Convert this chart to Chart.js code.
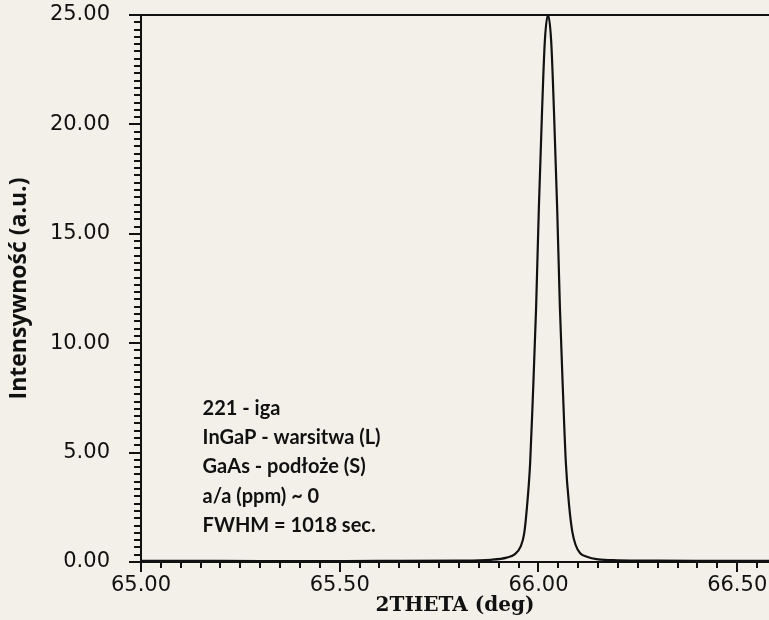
<!DOCTYPE html>
<html>
<head>
<meta charset="utf-8">
<script src="https://cdn.jsdelivr.net/npm/chart.js@4"></script>
<style>
  html, body { margin: 0; padding: 0; background: #f2f0e9; }
  #wrap { width: 769px; height: 620px; }
</style>
</head>
<body>
<div id="wrap"><canvas id="xrdChart" width="769" height="620"></canvas></div>
<script>
// scan data
const twoTheta = [65.00, 65.20, 65.40, 65.60, 65.80, 65.88, 65.92, 65.94, 65.955, 65.964,
    65.971, 65.979, 65.986, 65.994, 66.001, 66.009, 66.016, 66.024, 66.032, 66.039,
    66.047, 66.054, 66.062, 66.069, 66.077, 66.085, 66.093, 66.105, 66.12, 66.15,
    66.20, 66.30, 66.40, 66.50, 66.58];
const intensity = [0.05, 0.05, 0.04, 0.05, 0.06, 0.10, 0.20, 0.35, 0.70, 1.3,
    2.5, 4.5, 7.6, 11.6, 16.2, 20.6, 23.8, 25.0, 23.8, 20.6,
    16.2, 11.6, 7.6, 4.5, 2.6, 1.4, 0.8, 0.4, 0.25, 0.12,
    0.08, 0.06, 0.05, 0.05, 0.05];

// labelled ticks
const xMajor = [65.00, 65.50, 66.00, 66.50];
const yMajor = [0, 5, 10, 15, 20, 25];

// note block in the lower left
const infoLines = [
    "221 - iga",
    "InGaP - warsitwa (L)",
    "GaAs - podłoże (S)",
    "a/a (ppm) ~ 0",
    "FWHM = 1018 sec."
];

const INK = '#111';

function isMajor(v, list) {
    return list.some(m => Math.abs(m - v) < 1e-6);
}

// tick marks of two lengths, the top frame line and the note text
const decorPlugin = {
    id: 'decor',
    afterDraw(chart) {
        const ctx = chart.ctx;
        const xs = chart.scales.x;
        const ys = chart.scales.y;
        ctx.save();
        ctx.strokeStyle = INK;
        ctx.lineWidth = 2;

        xs.ticks.forEach(t => {
            const px = Math.round(xs.getPixelForValue(t.value));
            const len = isMajor(t.value, xMajor) ? 10 : 6;
            ctx.beginPath();
            ctx.moveTo(px, ys.bottom);
            ctx.lineTo(px, ys.bottom + len);
            ctx.stroke();
        });

        ys.ticks.forEach(t => {
            const py = Math.round(ys.getPixelForValue(t.value));
            const len = isMajor(t.value, yMajor) ? 12 : 7;
            ctx.beginPath();
            ctx.moveTo(xs.left, py);
            ctx.lineTo(xs.left - len, py);
            ctx.stroke();
        });

        // top frame
        ctx.beginPath();
        ctx.moveTo(xs.left - 12, ys.top);
        ctx.lineTo(xs.right, ys.top);
        ctx.stroke();

        // notes
        ctx.fillStyle = INK;
        ctx.font = 'bold 20px Lato, "Noto Sans", sans-serif';
        ctx.textBaseline = 'middle';
        ctx.textAlign = 'left';
        const x0 = xs.getPixelForValue(65.155);
        infoLines.forEach((line, i) => {
            const y = ys.getPixelForValue(7.0 - i * 1.33);
            ctx.fillText(line, x0, y);
        });
        ctx.restore();
    }
};

const ctx = document.getElementById('xrdChart').getContext('2d');

new Chart(ctx, {
    type: 'line',
    data: {
        datasets: [{
            data: twoTheta.map((t, i) => ({ x: t, y: intensity[i] })),
            borderColor: INK,
            borderWidth: 2.2,
            pointRadius: 0,
            cubicInterpolationMode: 'monotone',
            fill: false
        }]
    },
    options: {
        responsive: false,
        animation: false,
        layout: { padding: { top: 15, right: 0, left: 0, bottom: 0 } },
        plugins: {
            legend: { display: false },
            tooltip: { enabled: false }
        },
        scales: {
            x: {
                type: 'linear',
                min: 65.00,
                max: 66.58,
                afterBuildTicks(scale) {
                    const t = [];
                    for (let i = 0; i <= 31; i++) t.push({ value: 65 + i * 0.05 });
                    scale.ticks = t;
                },
                afterFit(scale) {
                    scale.height = 58;
                    scale.paddingLeft = 0;
                    scale.paddingRight = 0;
                },
                ticks: {
                    autoSkip: false,
                    maxRotation: 0,
                    padding: 1,
                    color: INK,
                    font: { family: '"DejaVu Sans", sans-serif', size: 21 },
                    callback: v => isMajor(v, xMajor) ? v.toFixed(2) : ''
                },
                grid: {
                    drawOnChartArea: false,
                    drawTicks: true,
                    tickLength: 10,
                    tickColor: 'rgba(0,0,0,0)'
                },
                border: { display: true, color: INK, width: 2 },
                title: {
                    display: true,
                    text: '2THETA (deg)',
                    color: INK,
                    font: { family: '"DejaVu Serif", serif', size: 20, weight: 'bold' },
                    padding: { top: 0, bottom: 2 }
                }
            },
            y: {
                min: 0,
                max: 25,
                afterBuildTicks(scale) {
                    const t = [];
                    for (let i = 0; i <= 75; i++) t.push({ value: i / 3 });
                    scale.ticks = t;
                },
                afterFit(scale) {
                    scale.width = 141;
                    scale.paddingTop = 0;
                    scale.paddingBottom = 0;
                },
                ticks: {
                    autoSkip: false,
                    padding: 19,
                    color: INK,
                    font: { family: '"DejaVu Sans", sans-serif', size: 21 },
                    callback: v => isMajor(v, yMajor) ? v.toFixed(2) : ''
                },
                grid: {
                    drawOnChartArea: false,
                    drawTicks: true,
                    tickLength: 12,
                    tickColor: 'rgba(0,0,0,0)'
                },
                border: { display: true, color: INK, width: 2 },
                title: {
                    display: true,
                    text: 'Intensywność (a.u.)',
                    color: INK,
                    font: { family: '"Open Sans", sans-serif', size: 23, weight: 'bold' },
                    padding: { top: 6, bottom: 0 }
                }
            }
        }
    },
    plugins: [decorPlugin]
});
</script>
</body>
</html>
